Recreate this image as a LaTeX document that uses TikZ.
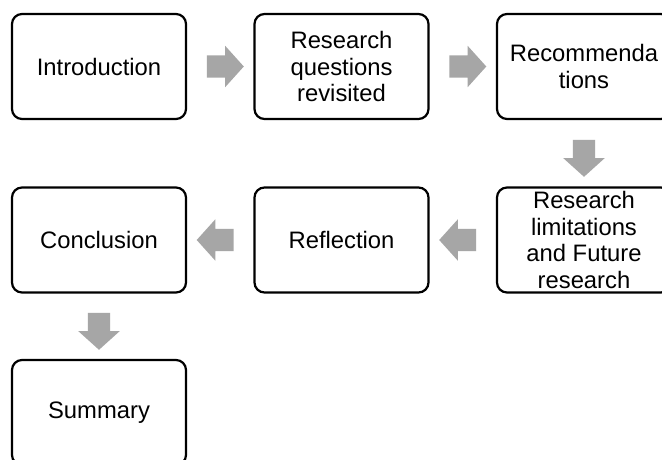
\documentclass[tikz,border=0pt]{standalone}
\usepackage{fontspec}
\setmainfont{Liberation Sans}
\usetikzlibrary{shapes.arrows,calc}
\definecolor{arrowgray}{HTML}{A6A6A6}
\tikzset{
  stagebox/.style={draw=black, line width=2.2pt, rounded corners=10pt,
    minimum width=174pt, minimum height=105pt, inner sep=0pt, align=center,
    font=\fontsize{23.8}{26.5}\selectfont},
  blockarrow/.style={single arrow, fill=arrowgray, draw=none,
    inner xsep=0pt, inner ysep=11pt, minimum width=0pt, minimum height=37pt,
    single arrow head extend=9.5pt, single arrow tip angle=96,
    single arrow head indent=0pt}
}
\begin{document}
\begin{tikzpicture}[x=1pt,y=-1pt]
  \useasboundingbox (0,0) rectangle (662,459);
  \clip (0,0) rectangle (662,459);
  \fill[white] (0,0) rectangle (662,459);

  % stages, three per row
  \node[stagebox] (intro) at (99,66.5)   {Introduction};
  \node[stagebox] (rq)    at (341.5,66.5) {Research\\questions\\revisited};
  \node[stagebox] (rec)   at (584,66.5)  {Recommenda\\tions};
  \node[stagebox] (lim)   at (584,240)   {Research\\limitations\\and Future\\research};
  \node[stagebox] (refl)  at (341.5,240) {Reflection};
  \node[stagebox] (concl) at (99,240)    {Conclusion};
  \node[stagebox] (summ)  at (99,412.5)  {Summary};

  % block arrows between consecutive stages
  \node[blockarrow] (a1) at ($(intro.east)!0.5!(rq.west)$) {};
  \node[blockarrow] (a2) at ($(rq.east)!0.5!(rec.west)$) {};
  \node[blockarrow, rotate=-90] (a3) at ($(rec.south)!0.5!(lim.north)$) {};
  \node[blockarrow, rotate=180] (a4) at ($(lim.west)!0.5!(refl.east)$) {};
  \node[blockarrow, rotate=180] (a5) at ($(refl.west)!0.5!(concl.east)$) {};
  \node[blockarrow, rotate=-90] (a6) at ($(concl.south)!0.5!(summ.north)$) {};
\end{tikzpicture}
\end{document}
